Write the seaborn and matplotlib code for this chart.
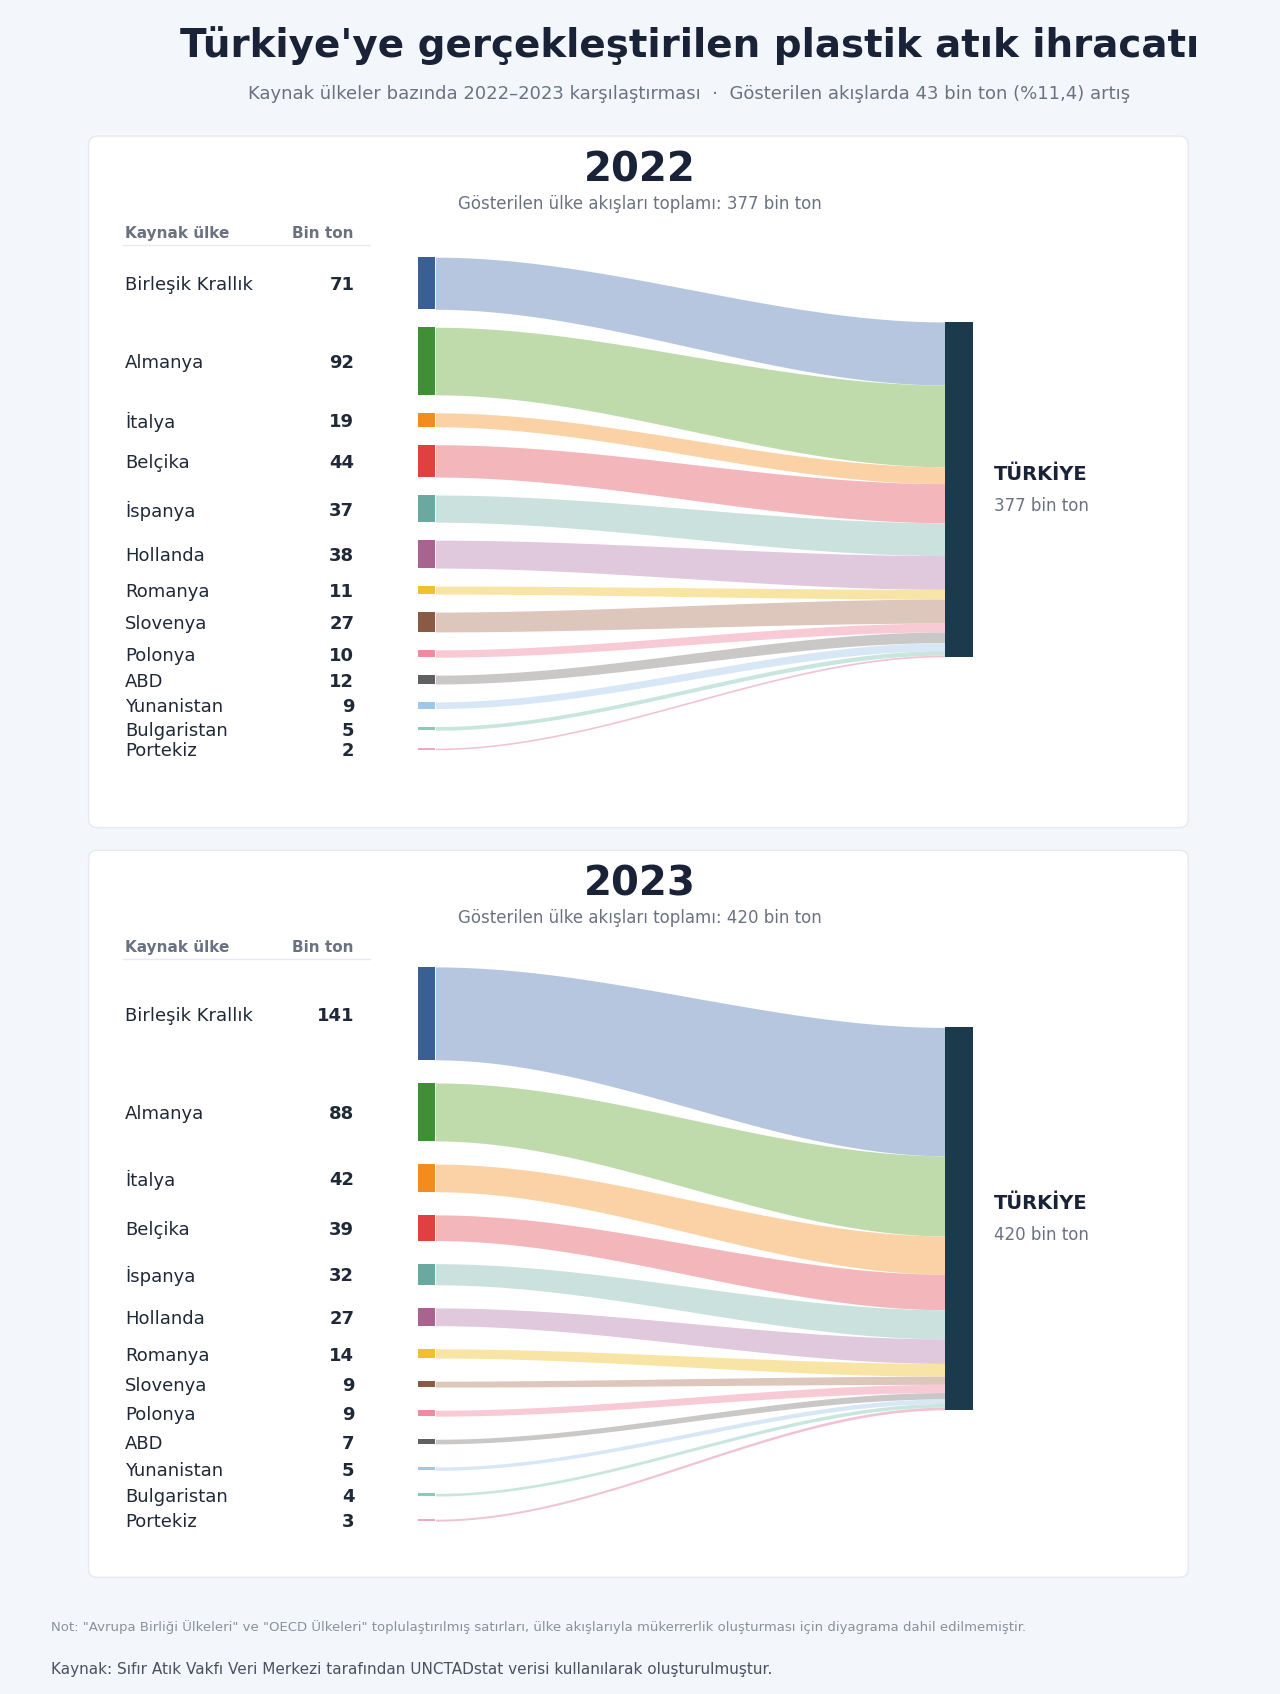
import numpy as np
import matplotlib.pyplot as plt
import seaborn as sns
from matplotlib.patches import FancyBboxPatch, Rectangle

sns.set_theme(style="white")
plt.rcParams['font.family'] = ['DejaVu Sans']

countries = ["Birleşik Krallık", "Almanya", "İtalya", "Belçika", "İspanya", "Hollanda",
             "Romanya", "Slovenya", "Polonya", "ABD", "Yunanistan", "Bulgaristan", "Portekiz"]
vals_2022 = [71, 92, 19, 44, 37, 38, 11, 27, 10, 12, 9, 5, 2]
vals_2023 = [141, 88, 42, 39, 32, 27, 14, 9, 9, 7, 5, 4, 3]
node_colors = ["#3a5f95", "#3f8f35", "#f28c1e", "#e0413f", "#6aa9a0", "#a8648f", "#f0c030",
               "#8a5a44", "#f08aa0", "#606060", "#9ec8e8", "#8ac8b8", "#f0a8c0"]
link_colors = ["#b3c3de", "#bcd9a8", "#fbd0a0", "#f3b3b8", "#c9e0dc", "#dfc5dc", "#f8e4a0",
               "#dcc3b8", "#f8c8d3", "#c8c4c4", "#d5e6f5", "#c5e5dd", "#f0c0d0"]

W, H = 1185, 1568
fig = plt.figure(figsize=(12.8, 16.94), dpi=100)
fig.patch.set_facecolor("#f3f6fa")
ax = fig.add_axes([0, 0, 1, 1])
ax.set_xlim(0, W)
ax.set_ylim(H, 0)
ax.axis("off")

ax.text(638, 42, "Türkiye'ye gerçekleştirilen plastik atık ihracatı", ha="center", va="center",
        fontsize=28, fontweight="bold", color="#1a2238")
ax.text(638, 87, "Kaynak ülkeler bazında 2022–2023 karşılaştırması  ·  Gösterilen akışlarda 43 bin ton (%11,4) artış",
        ha="center", va="center", fontsize=13, color="#6a7282")


def panel(top, bottom, year, vals, src_top, src_bot, tgt_top, tgt_bot, src_scale):
    ax.add_patch(FancyBboxPatch((82, top), 1018, bottom - top, boxstyle="round,pad=0,rounding_size=8",
                                facecolor="white", edgecolor="#e6eaf0", lw=1))
    ax.text(592, top + 32, str(year), ha="center", va="center", fontsize=29, fontweight="bold", color="#1a2238")
    total = sum(vals)
    ax.text(592, top + 63, f"Gösterilen ülke akışları toplamı: {total} bin ton", ha="center", va="center",
            fontsize=12, color="#6a7282")
    ax.text(116, top + 90, "Kaynak ülke", fontsize=11, fontweight="bold", color="#6a7282", va="center")
    ax.text(327, top + 90, "Bin ton", fontsize=11, fontweight="bold", color="#6a7282", va="center", ha="right")
    ax.plot([114, 343], [top + 101, top + 101], color="#e6eaf0", lw=1)

    heights = [max(v * src_scale, 1.5) for v in vals]
    gap = (src_bot - src_top - sum(heights)) / (len(vals) - 1)
    tscale = (tgt_bot - tgt_top) / total
    y = src_top
    ty = tgt_top
    x0, x1 = 403, 875
    xs = np.linspace(x0, x1, 200)
    t = (xs - x0) / (x1 - x0)
    s = 3 * t ** 2 - 2 * t ** 3
    for i, v in enumerate(vals):
        h = heights[i]
        c = y + h / 2
        th = v * tscale
        top_c = y + (ty - y) * s
        bot_c = (y + h) + (ty + th - (y + h)) * s
        ax.fill_between(xs, top_c, bot_c, color=link_colors[i], alpha=0.95, lw=0)
        ax.add_patch(Rectangle((387, y), 16, h, color=node_colors[i], lw=0))
        ax.text(116, c + 2, countries[i], va="center", fontsize=13, color="#1f2937")
        ax.text(328, c + 2, str(v), va="center", ha="right", fontsize=13, fontweight="bold", color="#1f2937")
        ty += th
        y += h + gap
    ax.add_patch(Rectangle((875, tgt_top), 26, tgt_bot - tgt_top, color="#1b3a4b", lw=0))
    mid = (tgt_top + tgt_bot) / 2
    ax.text(920, mid - 14, "TÜRKİYE", va="center", fontsize=14, fontweight="bold", color="#1a2238")
    ax.text(920, mid + 15, f"{total} bin ton", va="center", fontsize=12, color="#6a7282")


panel(126, 766, 2022, vals_2022, 238, 694, 298, 608, 0.68)
panel(787, 1460, 2023, vals_2023, 895, 1408, 951, 1305, 0.61)

ax.text(47, 1506, "Not: \"Avrupa Birliği Ülkeleri\" ve \"OECD Ülkeleri\" toplulaştırılmış satırları, ülke akışlarıyla mükerrerlik oluşturması için diyagrama dahil edilmemiştir.",
        va="center", fontsize=9.5, color="#8a909c")
ax.text(47, 1545, "Kaynak: Sıfır Atık Vakfı Veri Merkezi tarafından UNCTADstat verisi kullanılarak oluşturulmuştur.",
        va="center", fontsize=11, color="#4a5262")

fig.savefig("out.png", dpi=100, facecolor=fig.get_facecolor())
